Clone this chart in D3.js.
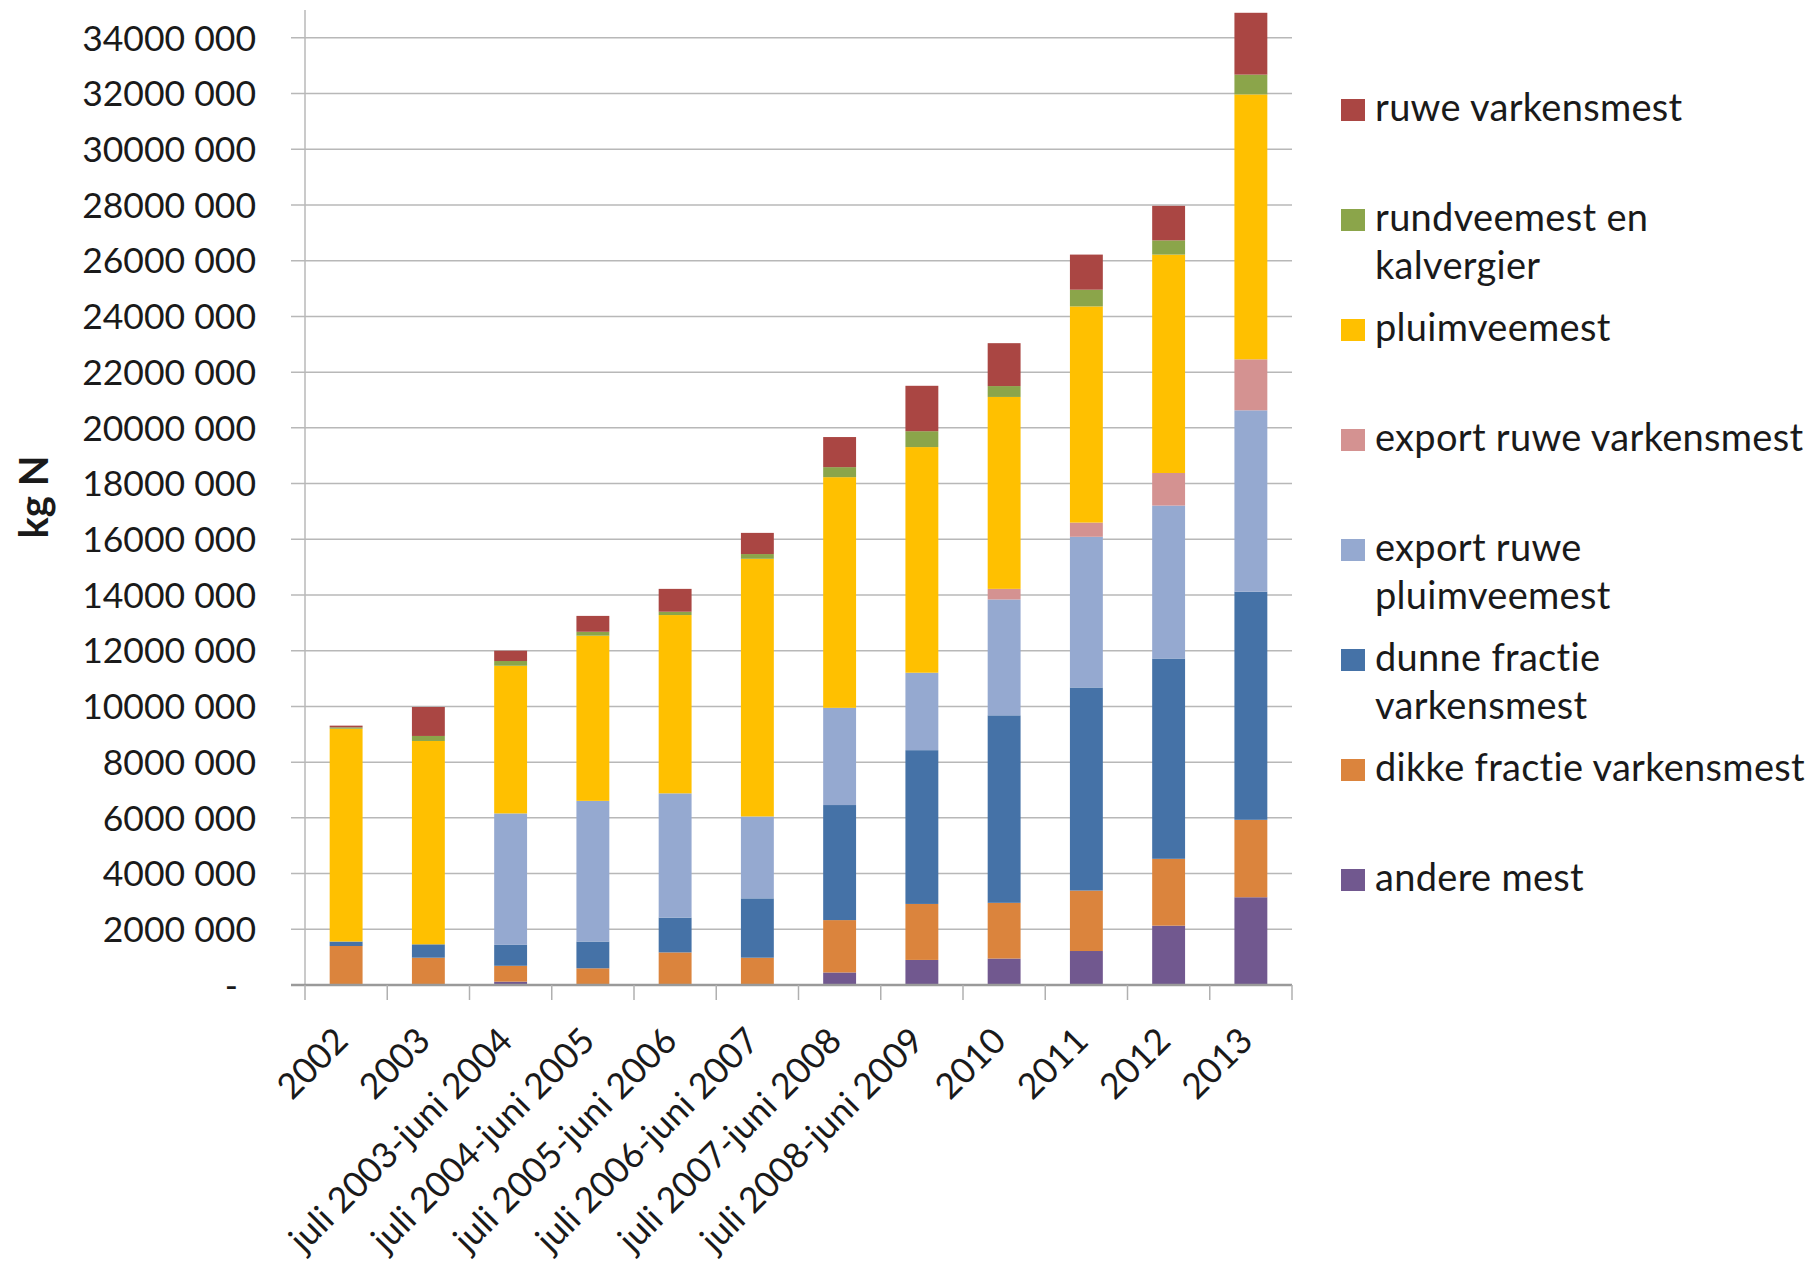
<!DOCTYPE html>
<html>
<head>
<meta charset="utf-8">
<script src="https://cdn.jsdelivr.net/npm/d3@7"></script>
<style>
  html, body { margin: 0; padding: 0; background: #fff; }
  svg { display: block; }
  text { font-family: Lato, "Open Sans", sans-serif; fill: #1a1a1a; }
</style>
</head>
<body>
<svg id="chart" width="1808" height="1266"></svg>
<script>
// ---- data (kg N) ----
const categories = ["2002", "2003", "juli 2003-juni 2004", "juli 2004-juni 2005", "juli 2005-juni 2006",
  "juli 2006-juni 2007", "juli 2007-juni 2008", "juli 2008-juni 2009", "2010", "2011", "2012", "2013"];

const andereMest            = [0, 0, 120000, 0, 0, 0, 450000, 900000, 950000, 1220000, 2130000, 3150000];
const dikkeFractie          = [1400000, 980000, 570000, 600000, 1170000, 980000, 1880000, 2010000, 2000000, 2170000, 2400000, 2780000];
const dunneFractie          = [160000, 480000, 750000, 960000, 1250000, 2130000, 4130000, 5520000, 6730000, 7290000, 7190000, 8190000];
const exportRuwePluimvee    = [0, 0, 4720000, 5050000, 4460000, 2940000, 3490000, 2780000, 4160000, 5410000, 5490000, 6510000];
const exportRuweVarkens     = [0, 0, 0, 0, 0, 0, 0, 0, 380000, 510000, 1170000, 1830000];
const pluimveemest          = [7640000, 7300000, 5300000, 5930000, 6400000, 9250000, 8280000, 8100000, 6890000, 7760000, 7840000, 9510000];
const rundveemest           = [50000, 180000, 170000, 140000, 120000, 170000, 360000, 570000, 390000, 600000, 510000, 710000];
const ruweVarkensmest       = [60000, 1040000, 370000, 570000, 820000, 760000, 1080000, 1630000, 1540000, 1260000, 1240000, 2220000];

const yTickValues = [0, 2000000, 4000000, 6000000, 8000000, 10000000, 12000000, 14000000, 16000000,
  18000000, 20000000, 22000000, 24000000, 26000000, 28000000, 30000000, 32000000, 34000000];
const yTickLabels = ["-", "2000 000", "4000 000", "6000 000", "8000 000", "10000 000", "12000 000", "14000 000",
  "16000 000", "18000 000", "20000 000", "22000 000", "24000 000", "26000 000", "28000 000", "30000 000",
  "32000 000", "34000 000"];

// stack order bottom -> top
const seriesKeys = ["andere", "dikke", "dunne", "expPluim", "expVark", "pluim", "rund", "ruwe"];
const seriesValues = [andereMest, dikkeFractie, dunneFractie, exportRuwePluimvee, exportRuweVarkens, pluimveemest, rundveemest, ruweVarkensmest];
const seriesColors = ["#71588F", "#DB843D", "#4572A7", "#95A9D0", "#D49291", "#FFC000", "#8BA54A", "#AA4643"];

// legend order top -> bottom
const legendKeys = ["ruwe", "rund", "pluim", "expVark", "expPluim", "dunne", "dikke", "andere"];
const legendLabels = [["ruwe varkensmest"], ["rundveemest en", "kalvergier"], ["pluimveemest"],
  ["export ruwe varkensmest"], ["export ruwe", "pluimveemest"], ["dunne fractie", "varkensmest"],
  ["dikke fractie varkensmest"], ["andere mest"]];

// ---- build table ----
const table = categories.map((c, i) => {
  const row = { cat: c };
  seriesKeys.forEach((k, j) => row[k] = seriesValues[j][i]);
  return row;
});
const colorOf = {};
seriesKeys.forEach((k, j) => colorOf[k] = seriesColors[j]);

// ---- layout ----
const svg = d3.select("#chart");
const plotLeft = 305, plotRight = 1292, plotBottom = 985, plotTop = 10;

const x = d3.scaleBand().domain(categories).range([plotLeft, plotRight]).paddingInner(0.6).paddingOuter(0.3);
const y = d3.scaleLinear().domain([0, 35000000]).range([plotBottom, plotTop]);

// gridlines
svg.append("g").selectAll("line").data(yTickValues.slice(1)).join("line")
  .attr("x1", plotLeft - 14).attr("x2", plotRight)
  .attr("y1", d => y(d)).attr("y2", d => y(d))
  .attr("stroke", "#b8b8b8").attr("stroke-width", 1.5);

// y axis line
svg.append("line").attr("x1", plotLeft).attr("x2", plotLeft).attr("y1", plotTop).attr("y2", plotBottom)
  .attr("stroke", "#b8b8b8").attr("stroke-width", 1.5);

// y tick labels
svg.append("g").selectAll("text").data(yTickValues).join("text")
  .attr("x", (d, i) => i === 0 ? 238 : 256)
  .attr("y", d => y(d))
  .attr("dy", "0.36em")
  .attr("text-anchor", "end")
  .style("font-size", "35.5px")
  .text((d, i) => yTickLabels[i]);

// y axis title
svg.append("text")
  .attr("transform", "translate(48,497) rotate(-90)")
  .attr("text-anchor", "middle")
  .style("font-size", "40px").style("font-weight", "bold")
  .text("kg N");

// bars
const stack = d3.stack().keys(seriesKeys)(table);
svg.append("g").selectAll("g").data(stack).join("g")
  .attr("fill", d => colorOf[d.key])
  .selectAll("rect").data(d => d).join("rect")
  .attr("x", d => x(d.data.cat))
  .attr("width", x.bandwidth())
  .attr("y", d => y(d[1]))
  .attr("height", d => Math.max(0, y(d[0]) - y(d[1])));

// x axis
const tickXs = d3.range(categories.length + 1).map(i => plotLeft + i * (plotRight - plotLeft) / categories.length);
svg.append("line").attr("x1", plotLeft - 14).attr("x2", plotRight).attr("y1", plotBottom).attr("y2", plotBottom)
  .attr("stroke", "#9a9a9a").attr("stroke-width", 2.5);
svg.append("g").selectAll("line").data(tickXs).join("line")
  .attr("x1", d => d).attr("x2", d => d).attr("y1", plotBottom).attr("y2", plotBottom + 15)
  .attr("stroke", "#b0b0b0").attr("stroke-width", 1.5);

svg.append("g").selectAll("text").data(categories).join("text")
  .attr("transform", d => `translate(${x(d) + x.bandwidth() / 2 + 4},${plotBottom + 58}) rotate(-45)`)
  .attr("text-anchor", "end")
  .style("font-size", "35.5px")
  .text(d => d);

// legend
const lg = svg.append("g");
legendKeys.forEach((k, i) => {
  const cy = 110 + i * 110;
  lg.append("rect").attr("x", 1341).attr("y", cy - 11).attr("width", 24).attr("height", 22).attr("fill", colorOf[k]);
  legendLabels[i].forEach((line, li) => {
    lg.append("text").attr("x", 1375).attr("y", cy + 11 + li * 48)
      .style("font-size", "38px").style("letter-spacing", "0.3px")
      .text(line);
  });
});
</script>
</body>
</html>
